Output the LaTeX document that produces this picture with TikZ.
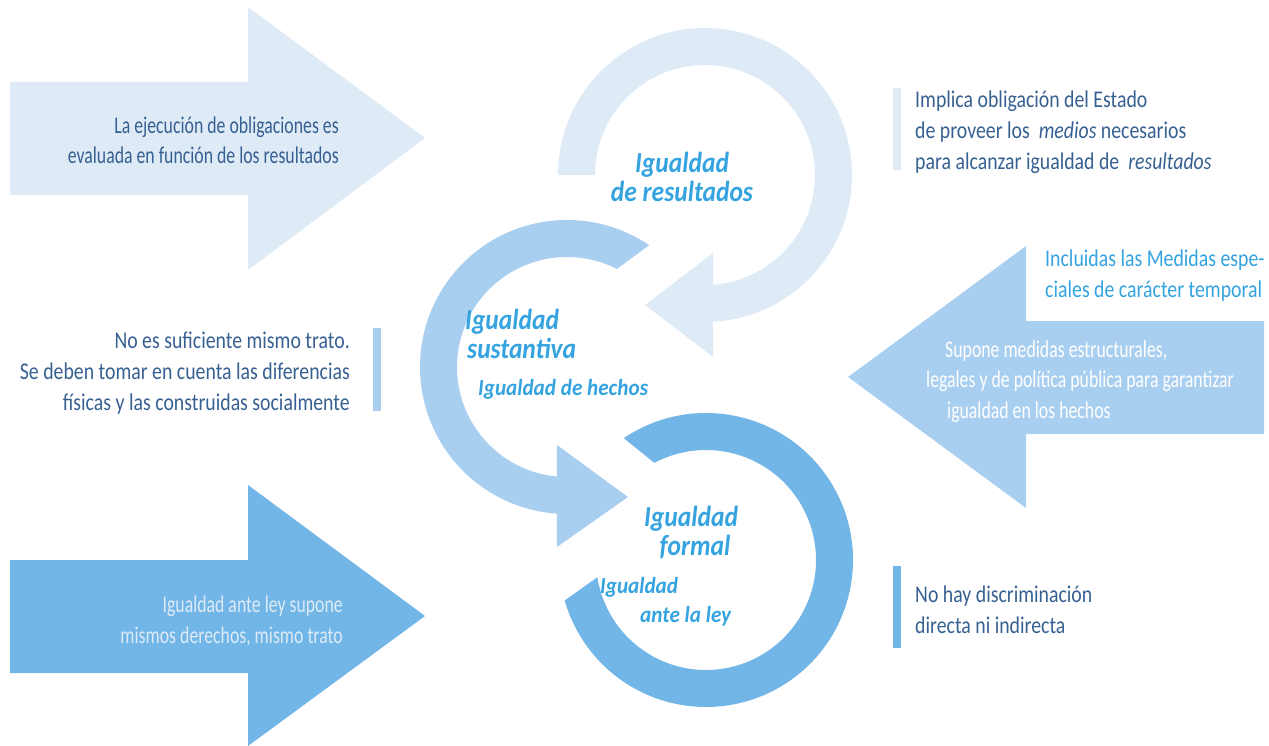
\documentclass[tikz,border=0pt]{standalone}
\usepackage{fontspec}
\setmainfont{Carlito}[FakeStretch=0.74]
\newfontfamily\sidefont{Carlito}[FakeStretch=0.825]
\newfontfamily\ringfont{Carlito}[FakeStretch=0.88]
\newfontfamily\subfont{Carlito}[FakeStretch=0.92]
\usetikzlibrary{calc}
\definecolor{paleblue}{HTML}{DEEBF7}
\definecolor{midblue}{HTML}{A9CFF0}
\definecolor{deepblue}{HTML}{71B6E7}
\definecolor{inkblue}{HTML}{376092}
\definecolor{brightblue}{HTML}{34A3E0}
\tikzset{
  note/.style={font=\fontsize{24}{30.5}\selectfont, text=inkblue, inner sep=0pt},
  sidenote/.style={font=\sidefont\fontsize{24}{31}\selectfont, text=inkblue, inner sep=0pt},
  ringlabel/.style={font=\ringfont\bfseries\itshape\fontsize{29}{29}\selectfont,
    text=brightblue, inner sep=0pt},
  ringsub/.style={font=\subfont\bfseries\itshape\fontsize{23}{29}\selectfont,
    text=brightblue, inner sep=0pt}
}
\begin{document}
\begin{tikzpicture}[x=1pt,y=-1pt]
\useasboundingbox (0,0) rectangle (1269,746);
% big block arrows
\fill[paleblue] (10,82) -- (248,82) -- (248,7) -- (425,138) -- (248,270)
  -- (248,195) -- (10,195) -- cycle;
\fill[midblue] (1264,321) -- (1026,321) -- (1026,246) -- (848,377)
  -- (1026,508) -- (1026,434) -- (1264,434) -- cycle;
\fill[deepblue] (10,560) -- (248,560) -- (248,485) -- (425,616) -- (248,746)
  -- (248,673) -- (10,673) -- cycle;
% ring arrows
\coordinate (cres) at (705,175);
\coordinate (csus) at (567,367);
\coordinate (cfor) at (706,560);
\fill[paleblue] ($(cres)+(180:147)$) arc[start angle=180,end angle=446.9,radius=147]
  -- (713,357) -- (645,305) -- (713,253)
  -- ($(cres)+(445.8:110)$) arc[start angle=445.8,end angle=180,radius=110] -- cycle;
\fill[midblue] ($(csus)+(304:147)$) arc[start angle=304,end angle=94,radius=147]
  -- (557,547) -- (628,497) -- (557,445)
  -- ($(csus)+(95.3:110)$) arc[start angle=95.3,end angle=297,radius=110] -- cycle;
\fill[deepblue] ($(cfor)+(236:147)$) arc[start angle=236,end angle=524,radius=147]
  -- ($(cfor)+(531:110)$) arc[start angle=531,end angle=242,radius=110] -- cycle;
% side bars
\fill[paleblue] (893,88) rectangle (901,170);
\fill[midblue] (373,328) rectangle (381,411);
\fill[deepblue] (893,566) rectangle (901,648);
% texts in the block arrows (base = last line)
\node[note, anchor=base east, align=right] (resnote) at (339,164)
  {La ejecución de obligaciones es\\evaluada en función de los resultados};
\node[note, anchor=base west, align=left, text=white] (susnote) at (926,418)
  {\hspace*{19pt}Supone medidas estructurales,\\legales y de política pública para garantizar\\\hspace*{21pt}igualdad en los hechos};
\node[note, anchor=base east, align=right, text=paleblue] (fornote) at (343,643)
  {Igualdad ante ley supone\\mismos derechos, mismo trato};
% texts beside the bars
\node[sidenote, anchor=base west, align=left] (resside) at (915,170)
  {Implica obligación del Estado\\de proveer los \ \textit{medios} necesarios\\para alcanzar igualdad de \ \textit{resultados}};
\node[sidenote, anchor=base east, align=right] (susside) at (350,410)
  {No es suficiente mismo trato.\\Se deben tomar en cuenta las diferencias\\físicas y las construidas socialmente};
\node[sidenote, anchor=base west, align=left] (forside) at (915,633)
  {No hay discriminación\\directa ni indirecta};
\node[sidenote, anchor=base west, align=left, text=brightblue] (medidas) at (1045,297)
  {Incluidas las Medidas espe-\\ciales de carácter temporal};
% ring labels
\node[ringlabel, anchor=base, align=center] (res) at (682,202)
  {Igualdad\\de resultados};
\node[ringlabel, anchor=base west, align=left] (sus) at (465,358)
  {Igualdad\\\hspace*{2pt}sustantiva};
\node[ringsub, anchor=base west] (hechos) at (478,395) {Igualdad de hechos};
\node[ringlabel, anchor=base, align=center] (for) at (691,555)
  {Igualdad\\\hspace*{8pt}formal};
\node[ringsub, anchor=base west, align=left] (ley) at (600,622)
  {Igualdad\\\hspace*{40pt}ante la ley};
\end{tikzpicture}
\end{document}
